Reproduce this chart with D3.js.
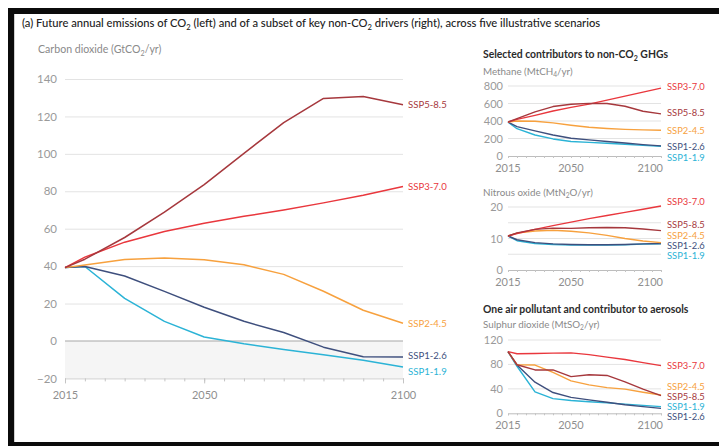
<!DOCTYPE html>
<html>
<head>
<meta charset="utf-8">
<script src="https://cdn.jsdelivr.net/npm/d3@7"></script>
<style>
  html, body { margin: 0; padding: 0; background: #fff; }
  svg { display: block; font-family: Lato, "Open Sans", sans-serif; }
</style>
</head>
<body>
<svg id="chart" width="719" height="446"></svg>
<script>
// Scenario names and colours, in drawing order
const scenarios = ["SSP1-1.9", "SSP1-2.6", "SSP2-4.5", "SSP3-7.0", "SSP5-8.5"];
const colors = ["#2bb3d6", "#3e4f7d", "#f7a13e", "#e9373d", "#a6383d"];

// Projection years
const years = [2015, 2020, 2030, 2040, 2050, 2060, 2070, 2080, 2090, 2100];

// Carbon dioxide, GtCO2/yr (one row per scenario, same order as above)
const co2Values = [
  [39.2, 39.8, 22.8, 10.5, 2.1, -1.5, -4.5, -7.3, -10.3, -13.9],
  [39.2, 39.8, 34.7, 26.5, 18.0, 10.5, 4.5, -3.3, -8.4, -8.6],
  [39.2, 40.6, 43.5, 44.3, 43.4, 40.7, 35.6, 26.6, 16.4, 9.5],
  [39.2, 44.8, 52.8, 58.5, 62.9, 66.6, 70.0, 73.8, 77.9, 82.5],
  [39.2, 43.7, 55.3, 68.8, 83.6, 100.3, 116.7, 129.6, 130.6, 126.2]
];

// Methane, MtCH4/yr
const ch4Values = [
  [388, 312, 240, 195, 166, 156, 146, 134, 122, 112],
  [388, 335, 287, 240, 203, 184, 166, 148, 130, 116],
  [388, 400, 397, 378, 352, 328, 314, 304, 298, 295],
  [388, 418, 464, 514, 555, 593, 638, 684, 730, 775],
  [388, 428, 505, 565, 592, 602, 600, 568, 512, 482]
];

// Nitrous oxide, MtN2O/yr
const n2oValues = [
  [10.8, 9.3, 8.4, 8.1, 7.9, 7.9, 7.9, 8.0, 8.2, 8.3],
  [10.8, 9.6, 8.7, 8.3, 8.1, 8.0, 8.0, 8.1, 8.3, 8.4],
  [10.8, 11.7, 12.4, 12.6, 12.3, 11.8, 11.0, 10.0, 9.2, 8.7],
  [10.8, 11.6, 12.9, 14.1, 15.2, 16.3, 17.3, 18.3, 19.3, 20.3],
  [10.8, 11.8, 12.9, 13.3, 13.2, 13.4, 13.5, 13.4, 13.0, 12.5]
];

// Sulphur dioxide, MtSO2/yr
const so2Values = [
  [101, 77, 35, 24, 21, 19, 17, 15, 13, 11],
  [101, 79, 51, 34, 26, 22, 18, 14, 11, 8],
  [101, 79.5, 79, 67, 53, 46.5, 42, 39.5, 34.5, 30],
  [101, 97.5, 98, 98.5, 99, 96, 92, 88, 83, 78],
  [101, 79.5, 71, 71, 60, 63, 62, 51.5, 39.5, 29]
];

// Axis tick values
const co2Ticks = [-20, 0, 20, 40, 60, 80, 100, 120, 140];
const yearLabels = [2015, 2050, 2100];
const ch4Ticks = [0, 200, 400, 600, 800];
const n2oTicks = [0, 10, 20];
const n2oGrid = [5, 10, 15, 20];
const so2Ticks = [0, 40, 80, 120];

const svg = d3.select("#chart");

// Frame around the figure
svg.append("rect").attr("x", 8).attr("y", 8).attr("width", 720).attr("height", 446).attr("fill", "#0b0b0b");
svg.append("rect").attr("x", 14).attr("y", 14).attr("width", 710).attr("height", 428).attr("fill", "#fff");
svg.append("line").attr("x1", 14.5).attr("x2", 14.5).attr("y1", 14).attr("y2", 442).attr("stroke", "#d0d0d0");

// Text with subscript pieces: parts = [[text, isSub], ...]
function richText(g, x, y, parts, opts) {
  const t = g.append("text").attr("x", x).attr("y", y)
    .attr("font-size", opts.size).attr("fill", opts.fill)
    .attr("font-weight", opts.weight || 400);
  let shifted = false;
  parts.forEach(([s, sub]) => {
    const ts = t.append("tspan").text(s);
    if (sub) { ts.attr("font-size", opts.size * 0.68).attr("dy", opts.size * 0.25); shifted = true; }
    else if (shifted) { ts.attr("dy", -opts.size * 0.25); shifted = false; }
  });
  return t;
}

// Figure title
richText(svg, 22, 27, [["(a) Future annual emissions of CO", false], ["2", true],
  [" (left) and of a subset of key non-CO", false], ["2", true],
  [" drivers (right), across five illustrative scenarios", false]],
  { size: 11.2, fill: "#222", weight: 500 });

// ---------- Main CO2 panel ----------
const x = d3.scaleLinear().domain([2015, 2100]).range([65, 403]);
const y = d3.scaleLinear().domain([-20, 140]).range([378.4, 79]);

richText(svg, 38, 53, [["Carbon dioxide (GtCO", false], ["2", true], ["/yr)", false]],
  { size: 10.6, fill: "#8a8a8a" });

// negative-emissions band
svg.append("rect").attr("x", x(2015)).attr("y", y(0))
  .attr("width", x(2100) - x(2015)).attr("height", y(-20) - y(0)).attr("fill", "#f5f5f5");

// gridlines
svg.append("g").selectAll("line").data(co2Ticks.filter(d => d !== 0 && d !== -20)).join("line")
  .attr("x1", x(2015)).attr("x2", x(2100)).attr("y1", d => y(d) + 0.5).attr("y2", d => y(d) + 0.5)
  .attr("stroke", "#e3e3e3").attr("stroke-width", 1);
svg.append("line").attr("x1", x(2015)).attr("x2", x(2100)).attr("y1", y(0)).attr("y2", y(0))
  .attr("stroke", "#a8a8a8").attr("stroke-width", 1.2);

// y axis labels
const yAxis = d3.axisLeft(y).tickValues(co2Ticks).tickSize(0).tickPadding(0);
const yg = svg.append("g").attr("transform", "translate(57,0)").call(yAxis);
yg.select(".domain").remove();
yg.selectAll("text").attr("font-size", 11.5).attr("fill", "#9a9a9a").attr("font-family", "Lato");

// x axis: baseline, 5-year ticks, labels at 2015/2050/2100
const xAxisY = y(-20);
const xg = svg.append("g").attr("transform", `translate(0,${xAxisY})`)
  .call(d3.axisBottom(x).tickValues(d3.range(2015, 2101, 5)).tickSize(3).tickFormat(""));
xg.select(".domain").attr("stroke", "#cfcfcf");
xg.selectAll(".tick line").attr("stroke", "#c4c4c4");
svg.append("g").attr("transform", `translate(0,${xAxisY})`)
  .call(d3.axisBottom(x).tickValues(yearLabels).tickSize(5).tickPadding(8).tickFormat(d3.format("d")))
  .call(g => { g.select(".domain").remove(); g.selectAll("line").attr("stroke", "#c4c4c4");
    g.selectAll("text").attr("font-size", 11).attr("fill", "#8f8f8f").attr("font-family", "Lato"); });

const line = d3.line().x((d, i) => x(years[i])).y(d => y(d));
svg.append("g").selectAll("path").data(co2Values).join("path")
  .attr("d", line).attr("fill", "none")
  .attr("stroke", (d, i) => colors[i]).attr("stroke-width", 1.5).attr("stroke-linejoin", "round");

// end labels (offset where lines converge)
const co2LabelY = [y(-14.1) + 4, y(-8.6) - 1, y(9.5), y(82.5), y(126.2)];
svg.append("g").selectAll("text").data(scenarios).join("text")
  .attr("x", x(2100) + 5).attr("y", (d, i) => co2LabelY[i]).attr("dy", "0.35em")
  .attr("font-size", 9.6).attr("fill", (d, i) => colors[i]).text(d => d);

// ---------- Small panels ----------
const sx = d3.scaleLinear().domain([2015, 2100]).range([508, 661]);

function smallPanel(values, yScale, labelTicks, gridTicks, labelYs) {
  const g = svg.append("g");
  g.selectAll("line.grid").data(gridTicks).join("line").attr("class", "grid")
    .attr("x1", sx(2015)).attr("x2", sx(2100)).attr("y1", d => yScale(d)).attr("y2", d => yScale(d))
    .attr("stroke", "#e3e3e3");
  const ya = g.append("g").attr("transform", "translate(503,0)")
    .call(d3.axisLeft(yScale).tickValues(labelTicks).tickSize(0).tickPadding(0));
  ya.select(".domain").remove();
  ya.selectAll("text").attr("font-size", 11).attr("fill", "#9a9a9a").attr("font-family", "Lato");
  const base = yScale(0);
  const xa = g.append("g").attr("transform", `translate(0,${base})`)
    .call(d3.axisBottom(sx).tickValues(d3.range(2015, 2101, 5)).tickSize(2).tickFormat(""));
  xa.select(".domain").attr("stroke", "#bdbdbd");
  xa.selectAll(".tick line").attr("stroke", "#c4c4c4");
  g.selectAll("text.yr").data(yearLabels).join("text").attr("class", "yr")
    .attr("x", d => d === 2100 ? sx(2100) + 2 : sx(d)).attr("y", base + 12).attr("dy", "0.35em")
    .attr("text-anchor", d => d === 2100 ? "end" : "middle")
    .attr("font-size", 11).attr("fill", "#8f8f8f").text(d => d);
  const ln = d3.line().x((d, i) => sx(years[i])).y(d => yScale(d));
  g.selectAll("path.s").data(values).join("path").attr("class", "s")
    .attr("d", ln).attr("fill", "none")
    .attr("stroke", (d, i) => colors[i]).attr("stroke-width", 1.4).attr("stroke-linejoin", "round");
  g.selectAll("text.lab").data(scenarios).join("text").attr("class", "lab")
    .attr("x", 667).attr("y", (d, i) => labelYs[i]).attr("dy", "0.35em")
    .attr("font-size", 9.4).attr("fill", (d, i) => colors[i]).text(d => d);
}

// Methane
richText(svg, 483, 58, [["Selected contributors to non-CO", false], ["2", true], [" GHGs", false]],
  { size: 10.4, fill: "#2b2b2b", weight: 700 });
richText(svg, 483, 75, [["Methane (MtCH", false], ["4", true], ["/yr)", false]],
  { size: 9.8, fill: "#8a8a8a" });
const yCh4 = d3.scaleLinear().domain([0, 800]).range([156, 86]);
smallPanel(ch4Values, yCh4, ch4Ticks, [200, 400, 600, 800], [157.5, 147, 131, 87, 113]);

// Nitrous oxide
richText(svg, 483, 196, [["Nitrous oxide (MtN", false], ["2", true], ["O/yr)", false]],
  { size: 9.8, fill: "#8a8a8a" });
const yN2o = d3.scaleLinear().domain([0, 20]).range([270, 207]);
smallPanel(n2oValues, yN2o, n2oTicks, n2oGrid, [255.5, 245.5, 235.5, 202, 224.5]);

// Sulphur dioxide
richText(svg, 483, 313, [["One air pollutant and contributor to aerosols", false]],
  { size: 10.4, fill: "#2b2b2b", weight: 700 });
richText(svg, 483, 328, [["Sulphur dioxide (MtSO", false], ["2", true], ["/yr)", false]],
  { size: 9.8, fill: "#8a8a8a" });
const ySo2 = d3.scaleLinear().domain([0, 120]).range([413.3, 340]);
smallPanel(so2Values, ySo2, so2Ticks, [40, 80, 120], [406.5, 416.5, 386.5, 366, 396.5]);
</script>
</body>
</html>
